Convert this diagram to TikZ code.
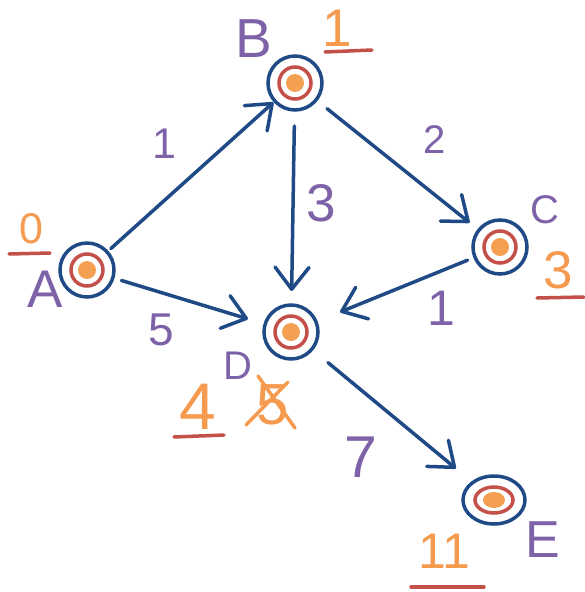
\documentclass[tikz,border=0pt]{standalone}
\usepackage{fontspec}
\setmainfont{Liberation Sans}
\usetikzlibrary{arrows.meta,shapes.geometric}
\definecolor{navy}{HTML}{1F4A86}
\definecolor{rring}{HTML}{C4504A}
\definecolor{ofill}{HTML}{F4A052}
\definecolor{purp}{HTML}{7D62A8}
\definecolor{oran}{HTML}{F59A4E}
\newcommand{\fsz}[1]{\fontsize{#1}{#1}\selectfont}
\tikzset{
  vert/.style={circle, draw=navy, line width=3.5pt, minimum size=54pt, inner sep=0pt, outer sep=0pt,
    path picture={
      \fill[ofill] (path picture bounding box.center) circle (9pt);
      \draw[rring, line width=3.5pt] (path picture bounding box.center) circle (16pt);
    }},
  evert/.style={ellipse, draw=navy, line width=3.5pt, minimum width=62pt, minimum height=48pt, inner sep=0pt, outer sep=0pt,
    path picture={
      \fill[ofill] (path picture bounding box.center) ellipse (11pt and 8pt);
      \draw[rring, line width=3.5pt] (path picture bounding box.center) ellipse (19pt and 13pt);
    }},
  edge/.style={draw=navy, line width=3.5pt, line cap=round, line join=round,
    -{Straight Barb[length=22pt,width=34pt,line cap=round,line join=round]}},
  namelbl/.style={text=purp, inner sep=0pt},
  dist/.style={text=oran, inner sep=0pt},
  wlbl/.style={text=purp, inner sep=0pt},
  uline/.style={draw=rring, line width=3.5pt, line cap=round},
  xline/.style={draw=oran, line width=3.5pt, line cap=round}
}
\begin{document}
\begin{tikzpicture}[x=1pt,y=-1pt]
\useasboundingbox (0,0) rectangle (585,592);
% vertices
\node[vert] (A) at (87,270) {};
\node[vert] (B) at (295,83) {};
\node[vert] (C) at (500,247) {};
\node[vert] (D) at (291,332) {};
\node[evert] (E) at (494,500) {};
% names
\node[namelbl] (nA) at (45,289) {\fsz{53}A};
\node[namelbl] (nB) at (254,39) {\fsz{55}B};
\node[namelbl] (nC) at (545,210) {\fsz{40}C};
\node[namelbl] (nD) at (238,366) {\fsz{40}D};
\node[namelbl] (nE) at (543,540) {\fsz{52}E};
% distances
\node[dist] (dA) at (31,229) {\fsz{43}0};
\node[dist] (dB) at (337,28) {\fsz{53}1};
\node[dist] (dC) at (558,270) {\fsz{53}3};
\node[dist] (dD) at (198,407) {\fsz{66}4};
\node[dist] (dDold) at (273,405) {\fsz{58}5};
\node[dist] (dE) at (444,551) {\fsz{50}11};
% underlines
\draw[uline] (9,254) -- (50,253);
\draw[uline] (325,52) -- (372,50);
\draw[uline] (537,298) -- (584,297);
\draw[uline] (174,437) -- (224,435);
\draw[uline] (411,587) -- (484,587);
% crossing out
\draw[xline] (246,425) -- (288,382);
\draw[xline] (258,376) -- (295,428);
% edges
\draw[edge, shorten <=5pt, shorten >=2pt] (A) -- (B);
\draw[edge, shorten <=14pt, shorten >=12pt] (B) -- (C);
\draw[edge, shorten <=16pt, shorten >=14pt] (B) -- (D);
\draw[edge, shorten <=9pt, shorten >=18pt] (A) -- (D);
\draw[edge, shorten <=8pt, shorten >=26pt] (C) -- (D);
\draw[edge, shorten <=21pt, shorten >=22pt] (D) -- (E);
% weights
\node[wlbl] (wAB) at (164,144) {\fsz{43}1};
\node[wlbl] (wBC) at (435,140) {\fsz{40}2};
\node[wlbl] (wBD) at (321,203) {\fsz{53}3};
\node[wlbl] (wAD) at (161,330) {\fsz{46}5};
\node[wlbl] (wCD) at (441,308) {\fsz{50}1};
\node[wlbl] (wDE) at (361,457) {\fsz{59}7};
\end{tikzpicture}
\end{document}
